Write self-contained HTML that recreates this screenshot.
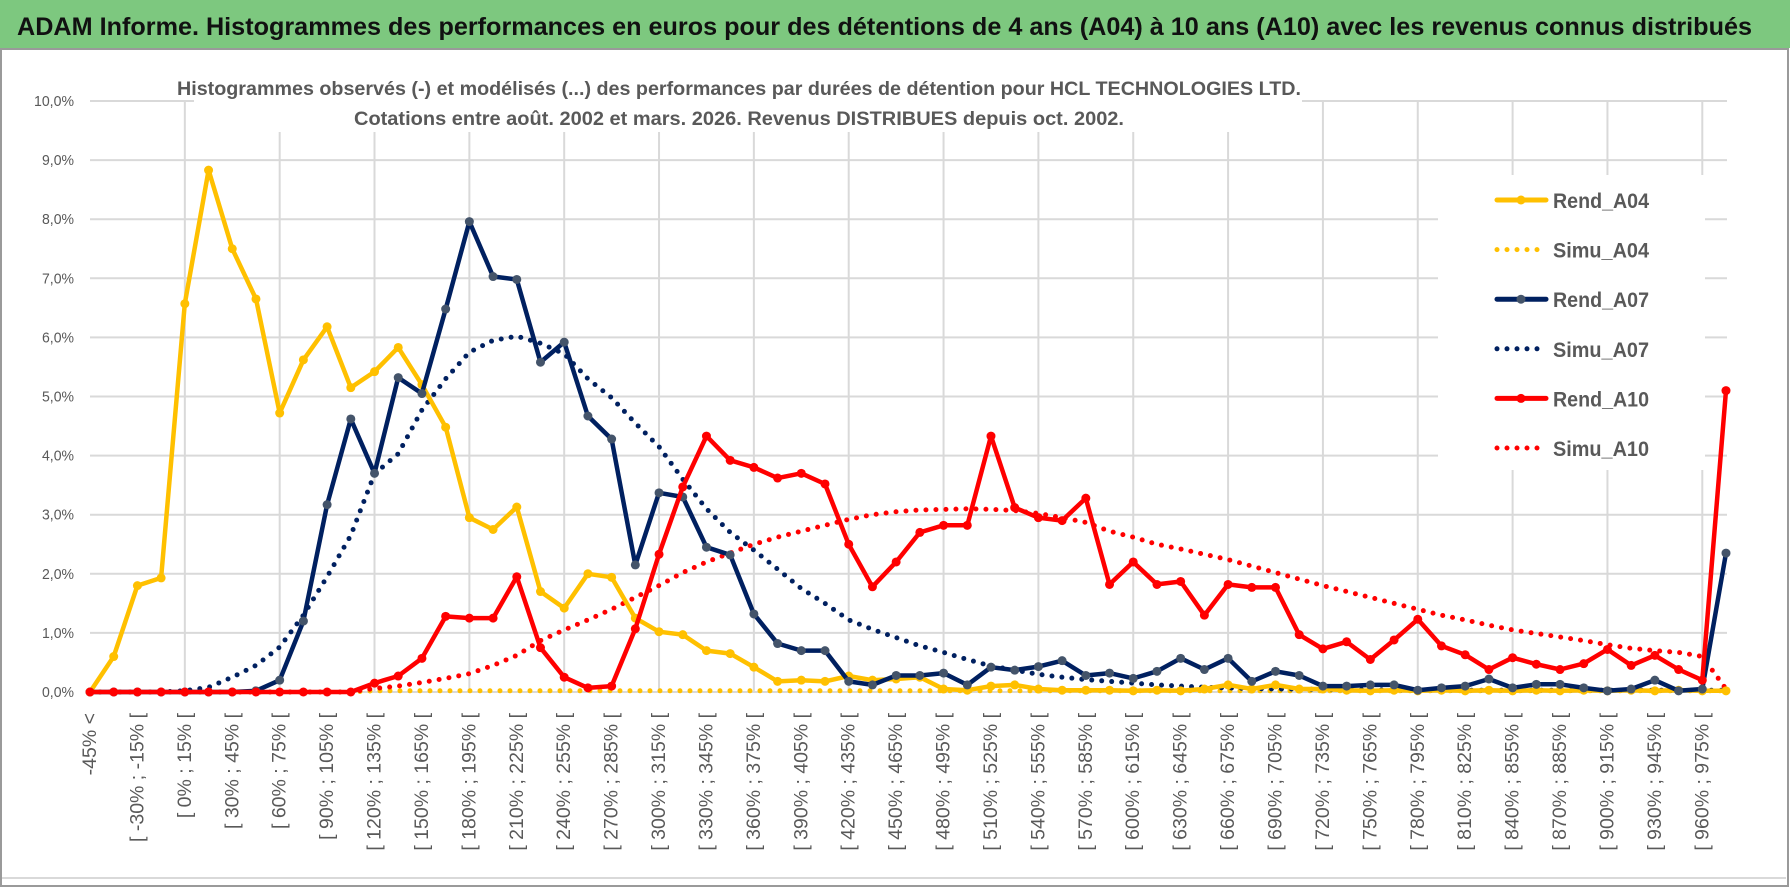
<!DOCTYPE html>
<html><head><meta charset="utf-8"><style>
html,body{margin:0;padding:0;background:#fff;}
svg{display:block;font-family:"Liberation Sans",sans-serif;}
</style></head><body>
<svg id="chart" width="1790" height="888" viewBox="0 0 1790 888" xmlns="http://www.w3.org/2000/svg">
<rect x="0" y="0" width="1790" height="888" fill="#fff"/>
<rect x="0" y="0" width="1790" height="48" fill="#7DC87F"/>
<text x="17" y="35" font-size="25" font-weight="bold" fill="#111" textLength="1735" lengthAdjust="spacingAndGlyphs">ADAM Informe. Histogrammes des performances en euros pour des détentions de 4 ans (A04) à 10 ans (A10) avec les revenus connus distribués</text>
<rect x="1" y="49" width="1787" height="837" fill="none" stroke="#9a9a9a" stroke-width="2"/>
<line x1="2" y1="878" x2="1786" y2="878" stroke="#d9d9d9" stroke-width="2"/>
<g id="grid"></g>
<rect x="194" y="60" width="1108" height="72" fill="#fff"/>
<text x="177" y="95" font-size="19" font-weight="bold" fill="#595959" textLength="1124" lengthAdjust="spacingAndGlyphs">Histogrammes observés (-) et modélisés (...) des performances par durées de détention pour HCL TECHNOLOGIES LTD.</text>
<text x="354" y="125" font-size="19" font-weight="bold" fill="#595959" textLength="770" lengthAdjust="spacingAndGlyphs">Cotations entre août. 2002 et mars. 2026. Revenus DISTRIBUES depuis oct. 2002.</text>
<g id="yaxis"></g>
<g id="xaxis"></g>
<rect x="1438" y="175" width="267" height="295" fill="#fff"/>
<g id="series"></g>
<g id="legend"></g>
</svg>
<script>
const rendA04 = [0,0.6,1.8,1.93,6.57,8.83,7.5,6.65,4.72,5.62,6.18,5.15,5.42,5.83,5.2,4.48,2.95,2.75,3.13,1.7,1.42,2.0,1.94,1.25,1.02,0.97,0.7,0.65,0.42,0.18,0.2,0.18,0.27,0.2,0.22,0.25,0.05,0.03,0.1,0.12,0.05,0.03,0.03,0.03,0.02,0.03,0.02,0.05,0.12,0.05,0.12,0.05,0.05,0.03,0.02,0.03,0.02,0.03,0.02,0.03,0.02,0.03,0.02,0.03,0.02,0.03,0.02,0.03,0.02,0.02];
const simuA04 = [0,0,0,0,0,0,0,0,0,0,0,0,0.02,0.02,0.02,0.02,0.02,0.02,0.02,0.02,0.02,0.02,0.02,0.02,0.02,0.02,0.02,0.02,0.02,0.02,0.02,0.02,0.02,0.02,0.02,0.02,0.02,0.02,0.02,0.02,0.02,0.02,0.02,0.02,0.02,0.02,0.02,0.02,0.02,0.02,0.02,0.02,0.02,0.02,0.02,0.02,0.02,0.02,0.02,0.02,0.02,0.02,0.02,0.02,0.02,0.02,0.02,0.02,0.02,0.02];
const rendA07 = [0,0,0,0,0,0,0,0.02,0.2,1.2,3.17,4.62,3.7,5.32,5.05,6.48,7.96,7.03,6.98,5.58,5.92,4.67,4.28,2.15,3.37,3.3,2.45,2.32,1.32,0.82,0.7,0.7,0.18,0.12,0.28,0.28,0.32,0.12,0.42,0.37,0.43,0.53,0.28,0.32,0.23,0.35,0.57,0.38,0.57,0.18,0.35,0.28,0.1,0.1,0.12,0.12,0.03,0.07,0.1,0.22,0.07,0.13,0.13,0.07,0.02,0.05,0.2,0.02,0.05,2.35];
const simuA07 = [0,0,0,0,0.02,0.08,0.25,0.45,0.76,1.3,1.95,2.65,3.69,4.03,4.77,5.3,5.75,5.95,6.02,5.9,5.72,5.3,4.98,4.55,4.15,3.6,3.1,2.7,2.4,2.08,1.75,1.5,1.22,1.06,0.92,0.78,0.67,0.55,0.44,0.37,0.3,0.25,0.21,0.18,0.15,0.12,0.1,0.08,0.07,0.06,0.05,0.05,0.04,0.04,0.04,0.03,0.03,0.03,0.03,0.03,0.03,0.03,0.03,0.03,0.03,0.03,0.03,0.03,0.03,0.03];
const rendA10 = [0,0,0,0,0,0,0,0,0,0,0,0,0.15,0.27,0.57,1.28,1.25,1.25,1.95,0.75,0.25,0.07,0.1,1.07,2.33,3.47,4.33,3.92,3.8,3.62,3.7,3.52,2.5,1.78,2.2,2.7,2.82,2.82,4.33,3.12,2.95,2.9,3.28,1.82,2.2,1.82,1.87,1.3,1.82,1.77,1.77,0.97,0.73,0.85,0.55,0.88,1.23,0.78,0.63,0.38,0.58,0.47,0.38,0.48,0.72,0.45,0.62,0.38,0.2,5.1];
const simuA10 = [0,0,0,0,0,0,0,0,0,0,0,0,0.06,0.1,0.16,0.23,0.31,0.45,0.62,0.87,1.05,1.22,1.4,1.6,1.8,2.02,2.2,2.35,2.5,2.62,2.72,2.82,2.92,3.0,3.05,3.08,3.09,3.1,3.09,3.07,3.02,2.95,2.87,2.72,2.62,2.5,2.42,2.33,2.24,2.13,2.02,1.91,1.8,1.7,1.6,1.5,1.4,1.3,1.22,1.13,1.05,0.99,0.93,0.87,0.8,0.74,0.7,0.67,0.6,0.05];
const yTicks = ["0,0%","1,0%","2,0%","3,0%","4,0%","5,0%","6,0%","7,0%","8,0%","9,0%","10,0%"];
const categoryCount = 70;

const NS="http://www.w3.org/2000/svg";
const X0=90, X1=1726, Y0=692, YPER=59.1;
function xs(i){return X0+(X1-X0)*i/(categoryCount-1);}
function ys(v){return Y0-v*YPER;}
function mk(tag,attrs,parent){const e=document.createElementNS(NS,tag);for(const k in attrs)e.setAttribute(k,attrs[k]);parent.appendChild(e);return e;}
function catLabel(i){
  if(i===0) return "-45% <";
  const lo=-45+15*(i-1), hi=lo+15;
  return "[ "+lo+"% ; "+hi+"% [";
}
const grid=document.getElementById('grid');
yTicks.forEach((t,k)=>{
  const l=mk('line',{x1:X0,x2:X1+1,y1:ys(k),y2:ys(k),stroke:'#d9d9d9','stroke-width':2},grid);
  
  
});
for(let i=4;i<categoryCount;i+=4){
  const l=mk('line',{x1:xs(i),x2:xs(i),y1:ys(10),y2:Y0,stroke:'#d9d9d9','stroke-width':2},grid);
  
  
}
const ya=document.getElementById('yaxis');
yTicks.forEach((t,k)=>{
  const e=mk('text',{x:74,y:ys(k)+5,'text-anchor':'end','font-size':15,fill:'#595959',textLength:t.length>4?40:32,lengthAdjust:'spacingAndGlyphs'},ya);
  e.textContent=t;
  
  
});
const xa=document.getElementById('xaxis');
for(let i=0;i<categoryCount;i+=2){
  const x=xs(i);
  const e=mk('text',{x:x,y:713,'text-anchor':'end','dominant-baseline':'central','font-size':19.5,fill:'#595959',transform:'rotate(-90 '+x+' 713)'},xa);
  e.textContent=catLabel(i);
  
  
}
const ser=document.getElementById('series');
function pts(arr){return arr.map((v,i)=>xs(i).toFixed(1)+','+ys(v).toFixed(1)).join(' ');}
function dotted(arr,color,name){
  const p=mk('polyline',{points:pts(arr),fill:'none',stroke:color,'stroke-width':5,'stroke-linecap':'round','stroke-dasharray':'0 10'},ser);
  
  
}
function solid(arr,color,mcolor,name){
  const g=mk('g',{},ser);
  
  
  mk('polyline',{points:pts(arr),fill:'none',stroke:color,'stroke-width':4.5,'stroke-linejoin':'round'},g);
  arr.forEach((v,i)=>{
    const c=mk('circle',{cx:xs(i),cy:ys(v),r:4.5,fill:mcolor},g);
    
    
  });
}
dotted(simuA04,'#FFC000','series-simu-a04');
dotted(simuA07,'#002060','series-simu-a07');
dotted(simuA10,'#FF0000','series-simu-a10');
solid(rendA04,'#FFC000','#FFC000','series-rend-a04');
solid(rendA07,'#002060','#44546A','series-rend-a07');
solid(rendA10,'#FF0000','#FF0000','series-rend-a10');

const legendItems=[["Rend_A04","#FFC000","#FFC000",false],["Simu_A04","#FFC000","",true],["Rend_A07","#002060","#44546A",false],["Simu_A07","#002060","",true],["Rend_A10","#FF0000","#FF0000",false],["Simu_A10","#FF0000","",true]];
const lg=document.getElementById('legend');
legendItems.forEach((it,k)=>{
  const y=200+k*49.6;
  const g=mk('g',{},lg);
  
  
  if(it[3]){
    mk('line',{x1:1497,x2:1545,y1:y,y2:y,stroke:it[1],'stroke-width':5,'stroke-linecap':'round','stroke-dasharray':'0 10'},g);
  } else {
    mk('line',{x1:1497,x2:1546,y1:y,y2:y,stroke:it[1],'stroke-width':5,'stroke-linecap':'round'},g);
    mk('circle',{cx:1521,cy:y,r:4.5,fill:it[2]},g);
  }
  const t=mk('text',{x:1553,y:y+8,'font-size':21,'font-weight':'bold',fill:'#595959',textLength:96,lengthAdjust:'spacingAndGlyphs'},g);
  t.textContent=it[0];
});
</script>
</body></html>
